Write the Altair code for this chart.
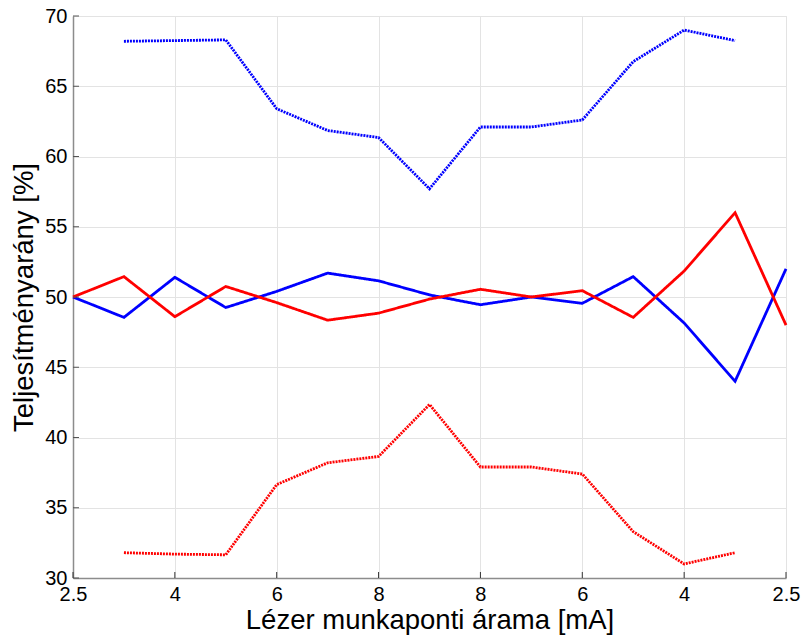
import json
import altair as alt
import pandas as pd

# x positions (index of measurement step), ticks every second step
idx_all = list(range(15))
idx_inner = list(range(1, 14))
tick_idx = [0, 2, 4, 6, 8, 10, 12, 14]
tick_labels = ["2.5", "4", "6", "8", "8", "6", "4", "2.5"]
y_ticks = [30, 35, 40, 45, 50, 55, 60, 65, 70]

blue_solid = [50.0, 48.55, 51.4, 49.25, 50.4, 51.7, 51.15, 50.15, 49.45, 50.0, 49.55, 51.45, 48.15, 44.0, 52.0]
red_solid = [50.0, 51.45, 48.6, 50.75, 49.6, 48.35, 48.85, 49.85, 50.55, 50.0, 50.45, 48.55, 51.85, 56.0, 48.0]
blue_dotted = [68.2, 68.25, 68.3, 63.4, 61.85, 61.35, 57.7, 62.1, 62.1, 62.6, 66.75, 69.0, 68.25]
red_dotted = [31.8, 31.7, 31.65, 36.65, 38.2, 38.65, 42.35, 37.9, 37.9, 37.4, 33.3, 31.0, 31.8]

rows = []
for name, xs, ys in [("bd", idx_inner, blue_dotted), ("rd", idx_inner, red_dotted),
                     ("bs", idx_all, blue_solid), ("rs", idx_all, red_solid)]:
    for i, v in zip(xs, ys):
        rows.append({"s": name, "i": i, "v": v})
df = pd.DataFrame(rows)

W, H = 713, 562
FONT = "Liberation Sans"

xscale = alt.Scale(domain=[0, 14], nice=False, zero=False)
yscale = alt.Scale(domain=[30, 70], nice=False, zero=False)

label_expr = json.dumps(tick_labels) + "[round(datum.value / 2)]"

base = alt.Chart(df)

lines = base.mark_line().encode(
    x=alt.X("i:Q", scale=xscale,
            axis=alt.Axis(values=tick_idx, labelExpr=label_expr,
                          title="Lézer munkaponti árama [mA]",
                          ticks=False, labelPadding=6, labelFlush=False,
                          labelOverlap=False, titlePadding=2)),
    y=alt.Y("v:Q", scale=yscale,
            axis=alt.Axis(values=y_ticks, title="Teljesítményarány [%]",
                          ticks=False, labelPadding=6, labelFlush=False,
                          labelOverlap=False, titlePadding=6)),
    color=alt.Color("s:N", scale=alt.Scale(domain=["bd", "rd", "bs", "rs"],
                                           range=["#0000ff", "#ff0000", "#0000ff", "#ff0000"]),
                    legend=None),
    strokeDash=alt.StrokeDash("s:N", scale=alt.Scale(domain=["bd", "rd", "bs", "rs"],
                                                     range=[[2, 1], [2, 1], [1, 0], [1, 0]]),
                              legend=None),
    strokeWidth=alt.StrokeWidth("s:N", scale=alt.Scale(domain=["bd", "rd", "bs", "rs"],
                                                       range=[2.8, 2.8, 3.6, 3.6]),
                                legend=None),
    order=alt.Order("i:Q"),
    detail="s:N",
)

ytick_df = pd.DataFrame({"v": y_ticks})
yt = alt.Chart(ytick_df).mark_rule(color="#555555", strokeWidth=1).encode(
    y=alt.Y("v:Q", scale=yscale), x=alt.value(0), x2=alt.value(6))

xtick_df = pd.DataFrame({"i": tick_idx})
xt = alt.Chart(xtick_df).mark_rule(color="#333333", strokeWidth=1).encode(
    x=alt.X("i:Q", scale=xscale), y=alt.value(H), y2=alt.value(H - 6))

chart = alt.layer(lines, yt, xt).properties(
    width=W, height=H,
    padding={"left": 73, "top": 16, "right": 17, "bottom": 61},
    autosize=alt.AutoSizeParams(type="none"),
    background="white",
).configure_view(
    stroke="#e3e3e3", strokeWidth=1
).configure_axis(
    labelFont=FONT, titleFont=FONT, labelFontSize=20, titleFontSize=27.5,
    labelColor="#000000", titleColor="#000000", titleFontWeight="normal",
    domainColor="#8c8c8c", domainWidth=1.5,
    gridColor="#e3e3e3", gridWidth=1,
)

chart.save("out.html", embed_options={"renderer": "svg", "actions": False})
